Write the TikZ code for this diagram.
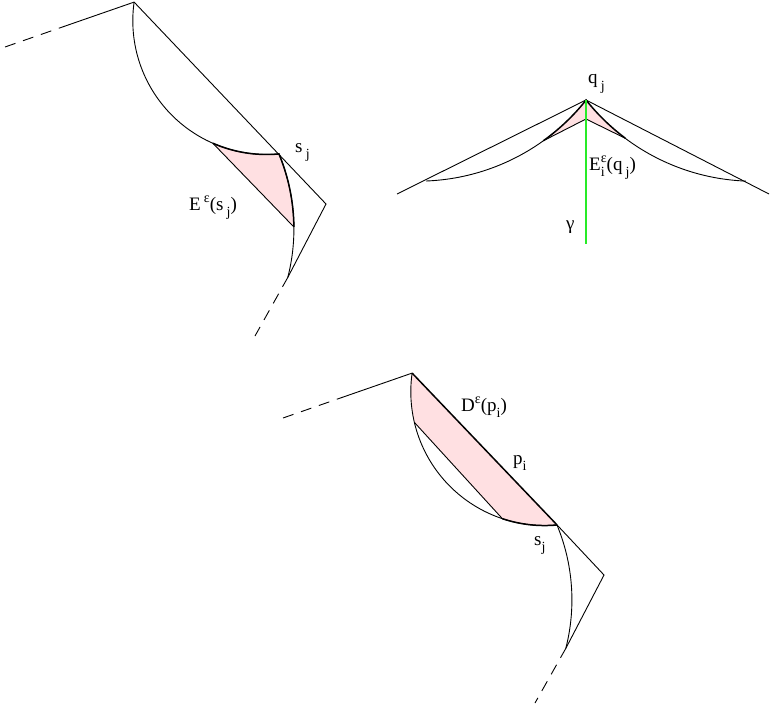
\documentclass[tikz,border=0pt]{standalone}
\usepackage{fontspec}
\setmainfont{Liberation Serif}
\usetikzlibrary{calc}
\definecolor{lightpink}{RGB}{255,224,226}
\definecolor{geogreen}{RGB}{40,235,40}
\newcommand\upidx[1]{\raisebox{0.42em}{\fontsize{14}{14}\selectfont #1}}
\newcommand\lowidx[1]{\raisebox{-0.32em}{\fontsize{14}{14}\selectfont #1}}
\tikzset{
    edge/.style={-,line width=0.9pt},
    bound/.style={-,line width=1.5pt},
    ext/.style={edge,dash pattern=on 11pt off 8pt},
    region/.style={fill=lightpink,draw=none},
    geod/.style={draw=geogreen,line width=1.6pt},
    lab/.style={inner sep=0pt,anchor=base west,font=\fontsize{19}{22}\selectfont},
}
\begin{document}
\begin{tikzpicture}[x=1pt,y=-1pt]
    \useasboundingbox (0,0) rectangle (771,709);
    % upper left corner
    \coordinate (a1) at (134.1,2.1);
    \coordinate (b1) at (326,204);
    \coordinate (s1) at (279.0,153.9);
    \coordinate (l1) at (287.9,277.2);
    \coordinate (w1) at (65,26.1);
    \coordinate (we1) at (5,47);
    \coordinate (le1) at (255,336);
    \coordinate (e1) at (212.8,143.2);
    \coordinate (e2) at (293.9,227.0);
    \fill[region] (e1) arc[start angle=113.7,end angle=84.7,radius=133.8]
        arc[start angle=-22.56,end angle=-0.56,radius=195.4] -- cycle;
    \draw[ext] (we1) -- (w1);
    \draw[edge] (w1) -- (a1) -- (b1) -- (l1);
    \draw[ext] (l1) -- (le1);
    \draw[edge] (a1) arc[start angle=188,end angle=84.7,radius=133.8]
        arc[start angle=-22.56,end angle=14.3,radius=195.4];
    \draw[bound] (e1) arc[start angle=113.7,end angle=84.7,radius=133.8]
        arc[start angle=-22.56,end angle=-0.56,radius=195.4];
    \draw[edge] (e1) -- (e2);
    \node[lab] (sj1) at (295,152) {s\,\lowidx{j}};
    \node[lab] (Esj) at (189,210) {E\,\upidx{ε}(s\,\lowidx{j})};
    % upper right corner
    \coordinate (q) at (586,100);
    \coordinate (m) at (586,119);
    \coordinate (g) at (586,244);
    \coordinate (tl) at (397,194);
    \coordinate (tr) at (769,194);
    \coordinate (hl) at (426.2,181.0);
    \coordinate (hr) at (745.9,181.0);
    \coordinate (pl) at (543.3,140.8);
    \coordinate (pr) at (625.1,138.2);
    \fill[region] (pl) arc[start angle=54.3,end angle=38.5,radius=214.9] -- (m) -- cycle;
    \fill[region] (q) arc[start angle=141.5,end angle=126.9,radius=214.9] -- (m) -- cycle;
    \draw[edge] (tl) -- (q) -- (tr);
    \draw[edge] (hl) arc[start angle=87.8,end angle=54.3,radius=214.9];
    \draw[bound] (pl) arc[start angle=54.3,end angle=38.5,radius=214.9]
        arc[start angle=141.5,end angle=126.9,radius=214.9];
    \draw[edge] (pr) arc[start angle=126.9,end angle=92.2,radius=214.9];
    \draw[edge] (pl) -- (m) -- (pr);
    \draw[geod] (q) -- (g);
    \node[lab] (qj) at (588,84) {q\,\lowidx{j}};
    \node[lab] (Eqj) at (589,170) {E\rlap{\lowidx{i}}\upidx{ε}(q\,\lowidx{j})};
    \node[lab] (gam) at (566,229) {γ};
    % lower corner
    \begin{scope}[shift={(278,371)}]
        \coordinate (a3) at (134.1,2.1);
        \coordinate (b3) at (326,204);
        \coordinate (s3) at (279.0,153.9);
        \coordinate (l3) at (287.9,277.2);
        \coordinate (w3) at (65,26.1);
        \coordinate (we3) at (5,47);
        \coordinate (le3) at (257,332);
        \coordinate (f1) at (136.3,51.3);
        \coordinate (f2) at (224.4,147.7);
        \fill[region] (a3) arc[start angle=188,end angle=166.8,radius=133.8] -- (f2)
            arc[start angle=108.4,end angle=84.7,radius=133.8] -- cycle;
        \draw[ext] (we3) -- (w3);
        \draw[edge] (w3) -- (a3);
        \draw[bound] (a3) -- (s3);
        \draw[edge] (s3) -- (b3) -- (l3);
        \draw[ext] (l3) -- (le3);
        \draw[edge] (a3) arc[start angle=188,end angle=84.7,radius=133.8]
            arc[start angle=-22.56,end angle=14.3,radius=195.4];
        \draw[bound] (f2) arc[start angle=108.4,end angle=84.7,radius=133.8];
        \draw[edge] (f1) -- (f2);
    \end{scope}
    \node[lab] (Dpi) at (461,411) {D\upidx{ε}(p\lowidx{i})};
    \node[lab] (pi) at (513,464) {p\lowidx{i}};
    \node[lab] (sj3) at (534,545) {s\lowidx{j}};
\end{tikzpicture}
\end{document}
